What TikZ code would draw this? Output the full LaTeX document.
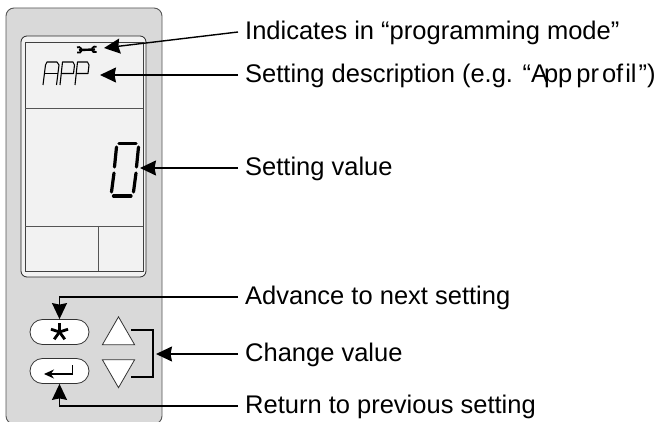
\documentclass[tikz,border=0pt]{standalone}
\usepackage{fontspec}
\setmainfont{Liberation Sans}
\definecolor{panelgray}{RGB}{217,217,217}
\definecolor{screengray}{RGB}{242,242,242}
\definecolor{edgegray}{RGB}{85,85,85}
\usetikzlibrary{shapes.misc,shapes.geometric,arrows.meta,positioning,calc}
\tikzset{
    callout/.style={anchor=west,inner xsep=7pt,inner ysep=0pt,text height=20pt,text depth=4pt,font=\fontsize{25.5}{28}\selectfont},
    keybtn/.style={draw=black!80,fill=white,rounded rectangle,minimum width=59pt,minimum height=25pt,inner sep=0pt,line width=0.8pt},
    pointer/.style={line width=1.4pt,-{Stealth[length=16pt,width=15pt,inset=1.5pt]}},
    segment/.style={line width=1.1pt,line join=round},
    bigseg/.style={line width=3.2pt,line cap=round},
    divider/.style={edgegray,line width=0.9pt},
    updown/.style={draw=black!80,fill=white,line width=0.8pt}
}
\begin{document}
\begin{tikzpicture}[x=1pt,y=-1pt]
    \useasboundingbox (0,0) rectangle (657,422);
    % housing and display
    \draw[fill=panelgray,draw=edgegray,line width=0.9pt,rounded corners=8pt] (6,8) rectangle (162,424);
    \draw[fill=screengray,draw=black!85,line width=0.8pt,rounded corners=6pt] (21,36) rectangle (146,277);
    \draw[fill=screengray,draw=black!75,line width=0.9pt] (25,42) rectangle (143,271);
    \draw[divider] (25,108) -- (143,108);
    \draw[divider] (25,226) -- (143,226);
    \draw[divider] (98,226) -- (98,271);
    % wrench
    \draw[line width=2.4pt] (79,50) -- (95,49.5);
    \draw[line width=1.8pt] (77,47.4) arc[start angle=120,end angle=-120,radius=3pt];
    \draw[line width=1.8pt] (96.5,46.9) arc[start angle=60,end angle=300,radius=3pt];
    % small text APP
    \draw[segment] (43,85) -- (45.5,65) -- (47,62) -- (57,62) -- (59,65) -- (56.5,85);
    \draw[segment] (44.5,73.5) -- (57.5,73.5);
    \draw[segment] (60,85) -- (62.5,62) -- (73,62) -- (74.5,65) -- (73.5,73.5) -- (61,73.5);
    \draw[segment] (75,85) -- (77.5,62) -- (87.5,62) -- (89,65) -- (88,73.5) -- (76,73.5);
    % big digit
    \draw[bigseg] (119,143.5) -- (136,143.5);
    \draw[bigseg] (113.5,196) -- (131,196);
    \draw[bigseg] (116.5,147) -- (114.5,167);
    \draw[bigseg] (114,173) -- (111.5,192);
    \draw[bigseg] (138.5,147) -- (136.5,167);
    \draw[bigseg] (136,173) -- (133.5,192);
    % keys
    \node[keybtn] (starkey) at (59.5,332) {};
    \node[keybtn] (enterkey) at (59.5,371) {};
    \foreach \a in {90,162,234,306,18}
        \draw[line width=2.8pt] (59.5,332) -- ++(\a:9pt);
    \draw[line width=1.2pt,-{Stealth[length=10pt,width=9pt]}] (72.5,365.5) |- (44,374);
    \node[updown,isosceles triangle,isosceles triangle apex angle=60,shape border rotate=90,minimum height=28pt,inner sep=0pt] (upkey) at (118.5,335.5) {};
    \node[updown,isosceles triangle,isosceles triangle apex angle=60,shape border rotate=-90,minimum height=28pt,inner sep=0pt] (downkey) at (118.5,369) {};
    % labels
    \node[callout] (modelbl) at (238,32) {Indicates in “programming mode”};
    \node[callout] (desclbl) at (238,75) {Setting description (e.g. “A\kern-4pt pp\kern4pt pr\kern3pt of\kern2pt il\kern2pt”)};
    \node[callout] (valuelbl) at (238,168) {Setting value};
    \node[callout] (nextlbl) at (238,297) {Advance to next setting};
    \node[callout] (changelbl) at (238,354) {Change value};
    \node[callout] (prevlbl) at (238,406) {Return to previous setting};
    % connectors
    \coordinate (wrenchpt) at (104,48);
    \coordinate (apppt) at (100,75);
    \coordinate (digitpt) at (140,168);
    \coordinate (bracketpt) at (156,354);
    \draw[pointer] (modelbl.west) -- (wrenchpt);
    \draw[pointer] (desclbl.west) -- (apppt);
    \draw[pointer] (valuelbl.west) -- (digitpt);
    \draw[pointer] (changelbl.west) -- (bracketpt);
    \draw[pointer] (nextlbl.west) -| (starkey.north);
    \draw[pointer] (prevlbl.west) -| (enterkey.south);
    \draw[line width=1.3pt] (131,330) -- (153,330) -- (153,377) -- (131,377);
\end{tikzpicture}
\end{document}
